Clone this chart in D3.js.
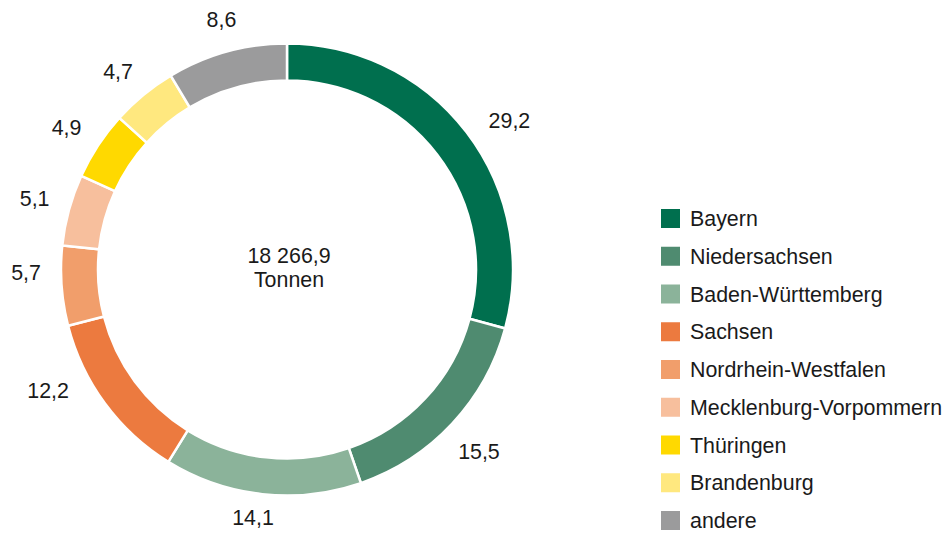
<!DOCTYPE html>
<html><head><meta charset="utf-8">
<script src="https://cdn.jsdelivr.net/npm/d3@7"></script>
<style>body{margin:0;background:#fff}svg{display:block}text{font-family:"Liberation Sans",Arial,sans-serif;fill:#1a1a1a}</style>
</head><body>
<script>
const categories = ["Bayern","Niedersachsen","Baden-Württemberg","Sachsen","Nordrhein-Westfalen","Mecklenburg-Vorpommern","Thüringen","Brandenburg","andere"];
const values = [29.2,15.5,14.1,12.2,5.7,5.1,4.9,4.7,8.6];
const labels = ["29,2","15,5","14,1","12,2","5,7","5,1","4,9","4,7","8,6"];
const colors = ["#006f4e","#4f8b70","#8bb39a","#ec7a3f","#f19e6b","#f7bf9d","#ffd900","#ffe87f","#9b9b9c"];
const totalLabel = ["18 266,9","Tonnen"];
const labelAngleNudge = [3.5,0.5,1.5,9.5,3.5,0.5,-0.5,-1,0.8];
const labelRadiusNudge = [1,-1,-4,0,0,0,0,0,3];

const W=947,H=533, cx=287, cy=269.5, rOut=226, rIn=189, fs=21.4;
const svg=d3.select("body").append("svg").attr("width",W).attr("height",H);
const g=svg.append("g").attr("transform",`translate(${cx},${cy})`);
const pie=d3.pie().sort(null).value(d=>d)(values);
const arc=d3.arc().innerRadius(rIn).outerRadius(rOut);
g.selectAll("path").data(pie).join("path").attr("d",arc)
 .attr("fill",(d,i)=>colors[i]).attr("stroke","#fff").attr("stroke-width",2.5);

// labels
const tmp=svg.append("text").style("font-size",fs+"px");
pie.forEach((d,i)=>{
  tmp.text(labels[i]); const w=tmp.node().getComputedTextLength(); const h=15;
  const a=(d.startAngle+d.endAngle)/2 + labelAngleNudge[i]*Math.PI/180;
  const s=Math.sin(a), c=Math.cos(a);
  const r=rOut+18+Math.abs(s)*(w/2+2)+Math.abs(c)*h/2+labelRadiusNudge[i];
  g.append("text").attr("x",s*r).attr("y",-c*r).attr("dy","0.36em")
   .attr("text-anchor","middle").style("font-size",fs+"px").text(labels[i]);
});
tmp.remove();

g.selectAll("text.center").data(totalLabel).join("text").attr("class","center")
 .attr("x",2).attr("y",(d,i)=>-14+i*24).attr("dy","0.36em").attr("text-anchor","middle")
 .style("font-size",fs+"px").text(d=>d);

// legend
const ly=d3.scalePoint().domain(categories).range([218.5,520.5]);
const lg=svg.append("g");
const items=lg.selectAll("g").data(categories).join("g").attr("transform",d=>`translate(661,${ly(d)})`);
items.append("rect").attr("x",0).attr("y",-9.5).attr("width",19).attr("height",19).attr("fill",(d,i)=>colors[i]);
items.append("text").attr("x",29).attr("y",0).attr("dy","0.36em").style("font-size",fs+"px").text(d=>d);
</script>
</body></html>
